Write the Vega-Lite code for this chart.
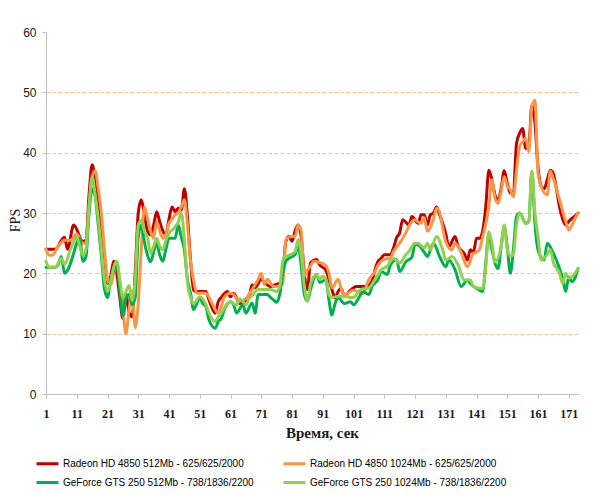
{
  "$schema": "https://vega.github.io/schema/vega-lite/v6.json",
  "autosize": "none",
  "width": 532,
  "height": 362,
  "padding": {"left": 46, "top": 32, "right": 22, "bottom": 105},
  "background": "white",
  "config": {"view": {"stroke": null}},
  "data": {"values": [
{"t":1,"s":"a","v":24},{"t":4,"s":"a","v":24},{"t":7,"s":"a","v":26},{"t":8,"s":"a","v":24},{"t":10,"s":"a","v":28},{"t":13,"s":"a","v":25.3},{"t":14,"s":"a","v":25.5},{"t":15,"s":"a","v":33},{"t":16,"s":"a","v":38},{"t":17,"s":"a","v":35.5},{"t":19,"s":"a","v":27},{"t":20,"s":"a","v":20},{"t":21,"s":"a","v":18.3},{"t":22,"s":"a","v":19.4},{"t":23,"s":"a","v":22},{"t":24,"s":"a","v":20},{"t":25,"s":"a","v":16},{"t":26,"s":"a","v":12.5},{"t":27,"s":"a","v":16.5},{"t":28,"s":"a","v":13.5},{"t":29,"s":"a","v":12.8},{"t":30,"s":"a","v":20},{"t":31,"s":"a","v":30},{"t":32,"s":"a","v":32.2},{"t":33,"s":"a","v":29.7},{"t":34,"s":"a","v":27},{"t":35,"s":"a","v":26.4},{"t":36,"s":"a","v":28},{"t":37,"s":"a","v":30.2},{"t":38,"s":"a","v":28.5},{"t":39,"s":"a","v":27},{"t":40,"s":"a","v":26.5},{"t":41,"s":"a","v":29},{"t":42,"s":"a","v":31},{"t":43,"s":"a","v":30.2},{"t":44,"s":"a","v":30.8},{"t":45,"s":"a","v":30.5},{"t":46,"s":"a","v":34},{"t":47,"s":"a","v":29.4},{"t":48,"s":"a","v":22.2},{"t":49,"s":"a","v":17.2},{"t":50,"s":"a","v":17},{"t":53,"s":"a","v":17},{"t":54,"s":"a","v":15.6},{"t":56,"s":"a","v":13.4},{"t":57,"s":"a","v":15.3},{"t":58,"s":"a","v":16},{"t":60,"s":"a","v":17},{"t":61,"s":"a","v":16.1},{"t":62,"s":"a","v":16.7},{"t":64,"s":"a","v":15},{"t":65,"s":"a","v":15.2},{"t":67,"s":"a","v":16},{"t":68,"s":"a","v":18.1},{"t":69,"s":"a","v":17.6},{"t":71,"s":"a","v":19},{"t":72,"s":"a","v":18.5},{"t":74,"s":"a","v":17.8},{"t":75,"s":"a","v":18},{"t":77,"s":"a","v":18.4},{"t":78,"s":"a","v":20},{"t":79,"s":"a","v":25.3},{"t":80,"s":"a","v":26.1},{"t":81,"s":"a","v":25.3},{"t":82,"s":"a","v":27},{"t":83,"s":"a","v":28},{"t":84,"s":"a","v":26},{"t":85,"s":"a","v":20},{"t":86,"s":"a","v":17.3},{"t":87,"s":"a","v":21.7},{"t":89,"s":"a","v":22.3},{"t":90,"s":"a","v":21.4},{"t":92,"s":"a","v":20.5},{"t":93,"s":"a","v":19},{"t":94,"s":"a","v":17.3},{"t":95,"s":"a","v":15.9},{"t":96,"s":"a","v":17},{"t":97,"s":"a","v":17.5},{"t":98,"s":"a","v":16.2},{"t":100,"s":"a","v":17.2},{"t":101,"s":"a","v":17.6},{"t":102,"s":"a","v":17.8},{"t":105,"s":"a","v":17.8},{"t":107,"s":"a","v":18.7},{"t":108,"s":"a","v":20.6},{"t":109,"s":"a","v":22},{"t":110,"s":"a","v":22.5},{"t":111,"s":"a","v":23.1},{"t":113,"s":"a","v":23.1},{"t":114,"s":"a","v":24.2},{"t":115,"s":"a","v":25.9},{"t":116,"s":"a","v":26.7},{"t":117,"s":"a","v":28.9},{"t":118,"s":"a","v":28.5},{"t":119,"s":"a","v":28},{"t":120,"s":"a","v":29.4},{"t":122,"s":"a","v":28.3},{"t":123,"s":"a","v":29.7},{"t":124,"s":"a","v":29.7},{"t":125,"s":"a","v":28},{"t":126,"s":"a","v":29.7},{"t":127,"s":"a","v":30},{"t":128,"s":"a","v":31},{"t":129,"s":"a","v":29.7},{"t":131,"s":"a","v":26.6},{"t":132,"s":"a","v":24.4},{"t":134,"s":"a","v":26.1},{"t":135,"s":"a","v":24.5},{"t":137,"s":"a","v":23.3},{"t":138,"s":"a","v":22.2},{"t":139,"s":"a","v":23.9},{"t":140,"s":"a","v":23.5},{"t":141,"s":"a","v":25.8},{"t":142,"s":"a","v":25.8},{"t":143,"s":"a","v":27},{"t":144,"s":"a","v":31},{"t":145,"s":"a","v":37.1},{"t":146,"s":"a","v":35.5},{"t":147,"s":"a","v":33},{"t":148,"s":"a","v":32.2},{"t":149,"s":"a","v":34},{"t":150,"s":"a","v":37},{"t":151,"s":"a","v":34.9},{"t":152,"s":"a","v":33.3},{"t":153,"s":"a","v":33.5},{"t":154,"s":"a","v":41.5},{"t":155,"s":"a","v":43.2},{"t":156,"s":"a","v":44},{"t":157,"s":"a","v":40.7},{"t":158,"s":"a","v":41},{"t":159,"s":"a","v":47.9},{"t":160,"s":"a","v":45},{"t":161,"s":"a","v":37.5},{"t":162,"s":"a","v":34.5},{"t":163,"s":"a","v":34},{"t":164,"s":"a","v":35.5},{"t":165,"s":"a","v":37.1},{"t":166,"s":"a","v":36.5},{"t":167,"s":"a","v":34},{"t":168,"s":"a","v":31},{"t":169,"s":"a","v":29},{"t":170,"s":"a","v":28},{"t":171,"s":"a","v":28.6},{"t":172,"s":"a","v":29.1},{"t":173,"s":"a","v":29.5},{"t":174,"s":"a","v":30},

{"t":1,"s":"b","v":24},{"t":2,"s":"b","v":23},{"t":3,"s":"b","v":23},{"t":5,"s":"b","v":24.5},{"t":7,"s":"b","v":25.5},{"t":9,"s":"b","v":25.5},{"t":11,"s":"b","v":26.5},{"t":13,"s":"b","v":25},{"t":14,"s":"b","v":25},{"t":15,"s":"b","v":31},{"t":16,"s":"b","v":36},{"t":17,"s":"b","v":37},{"t":18,"s":"b","v":34},{"t":19,"s":"b","v":30},{"t":20,"s":"b","v":24},{"t":21,"s":"b","v":19},{"t":22,"s":"b","v":18},{"t":23,"s":"b","v":20},{"t":24,"s":"b","v":22},{"t":25,"s":"b","v":18},{"t":26,"s":"b","v":14},{"t":27,"s":"b","v":10},{"t":28,"s":"b","v":14},{"t":29,"s":"b","v":17},{"t":30,"s":"b","v":11},{"t":31,"s":"b","v":15},{"t":32,"s":"b","v":24},{"t":33,"s":"b","v":31},{"t":34,"s":"b","v":29.1},{"t":35,"s":"b","v":27},{"t":36,"s":"b","v":25.8},{"t":37,"s":"b","v":28.6},{"t":38,"s":"b","v":27},{"t":39,"s":"b","v":25.8},{"t":40,"s":"b","v":26.5},{"t":41,"s":"b","v":28.3},{"t":42,"s":"b","v":29},{"t":43,"s":"b","v":29.7},{"t":44,"s":"b","v":30},{"t":45,"s":"b","v":31},{"t":46,"s":"b","v":32.2},{"t":47,"s":"b","v":28},{"t":48,"s":"b","v":22},{"t":49,"s":"b","v":18.9},{"t":50,"s":"b","v":16.7},{"t":53,"s":"b","v":16.7},{"t":55,"s":"b","v":15},{"t":57,"s":"b","v":13.4},{"t":58,"s":"b","v":14.5},{"t":59,"s":"b","v":16.1},{"t":61,"s":"b","v":16.7},{"t":62,"s":"b","v":16.5},{"t":63,"s":"b","v":15.8},{"t":64,"s":"b","v":15.4},{"t":66,"s":"b","v":15.8},{"t":67,"s":"b","v":16.5},{"t":69,"s":"b","v":18.1},{"t":70,"s":"b","v":19},{"t":71,"s":"b","v":20},{"t":72,"s":"b","v":18.1},{"t":73,"s":"b","v":19},{"t":75,"s":"b","v":17.8},{"t":76,"s":"b","v":17.8},{"t":78,"s":"b","v":18.3},{"t":79,"s":"b","v":25.6},{"t":80,"s":"b","v":26},{"t":81,"s":"b","v":26.1},{"t":82,"s":"b","v":26.1},{"t":83,"s":"b","v":28},{"t":84,"s":"b","v":27},{"t":85,"s":"b","v":19.5},{"t":86,"s":"b","v":20.5},{"t":87,"s":"b","v":21.2},{"t":88,"s":"b","v":22},{"t":90,"s":"b","v":21.8},{"t":92,"s":"b","v":21.3},{"t":93,"s":"b","v":20},{"t":94,"s":"b","v":17.6},{"t":96,"s":"b","v":19},{"t":97,"s":"b","v":17.5},{"t":98,"s":"b","v":16.3},{"t":99,"s":"b","v":16.6},{"t":101,"s":"b","v":17.2},{"t":102,"s":"b","v":17},{"t":104,"s":"b","v":16.6},{"t":106,"s":"b","v":19},{"t":108,"s":"b","v":20.3},{"t":109,"s":"b","v":21.4},{"t":111,"s":"b","v":22.3},{"t":113,"s":"b","v":22.5},{"t":114,"s":"b","v":23.6},{"t":116,"s":"b","v":25},{"t":118,"s":"b","v":26.7},{"t":119,"s":"b","v":27.8},{"t":121,"s":"b","v":28.9},{"t":122,"s":"b","v":28.5},{"t":123,"s":"b","v":28.3},{"t":124,"s":"b","v":29.2},{"t":125,"s":"b","v":27},{"t":127,"s":"b","v":29},{"t":128,"s":"b","v":30.8},{"t":129,"s":"b","v":30.2},{"t":130,"s":"b","v":27.5},{"t":131,"s":"b","v":25.2},{"t":133,"s":"b","v":23.9},{"t":134,"s":"b","v":25},{"t":136,"s":"b","v":23.5},{"t":138,"s":"b","v":21.1},{"t":140,"s":"b","v":23.3},{"t":141,"s":"b","v":23.5},{"t":142,"s":"b","v":24},{"t":143,"s":"b","v":26},{"t":145,"s":"b","v":31},{"t":146,"s":"b","v":35.5},{"t":147,"s":"b","v":32.5},{"t":148,"s":"b","v":31.6},{"t":149,"s":"b","v":33.5},{"t":150,"s":"b","v":36},{"t":151,"s":"b","v":34.5},{"t":152,"s":"b","v":33.8},{"t":153,"s":"b","v":32.7},{"t":154,"s":"b","v":37},{"t":155,"s":"b","v":41},{"t":156,"s":"b","v":41.8},{"t":157,"s":"b","v":42.4},{"t":158,"s":"b","v":40.2},{"t":159,"s":"b","v":47.6},{"t":160,"s":"b","v":48.7},{"t":161,"s":"b","v":36.6},{"t":162,"s":"b","v":34.4},{"t":164,"s":"b","v":33},{"t":165,"s":"b","v":36.9},{"t":166,"s":"b","v":35.7},{"t":168,"s":"b","v":32.2},{"t":170,"s":"b","v":28.6},{"t":171,"s":"b","v":27.2},{"t":172,"s":"b","v":28},{"t":173,"s":"b","v":29},{"t":174,"s":"b","v":30},

{"t":1,"s":"c","v":21},{"t":4,"s":"c","v":21},{"t":5,"s":"c","v":21.5},{"t":6,"s":"c","v":22.8},{"t":7,"s":"c","v":20},{"t":8,"s":"c","v":20.5},{"t":10,"s":"c","v":23.3},{"t":11,"s":"c","v":25},{"t":12,"s":"c","v":25.8},{"t":13,"s":"c","v":22},{"t":14,"s":"c","v":22.8},{"t":15,"s":"c","v":30},{"t":16,"s":"c","v":34},{"t":17,"s":"c","v":32.7},{"t":18,"s":"c","v":28},{"t":19,"s":"c","v":23},{"t":20,"s":"c","v":17.5},{"t":21,"s":"c","v":16},{"t":22,"s":"c","v":19},{"t":23,"s":"c","v":20.5},{"t":24,"s":"c","v":21.6},{"t":25,"s":"c","v":17.2},{"t":26,"s":"c","v":13},{"t":27,"s":"c","v":16},{"t":28,"s":"c","v":16.5},{"t":29,"s":"c","v":14.8},{"t":30,"s":"c","v":16},{"t":31,"s":"c","v":26},{"t":32,"s":"c","v":28},{"t":33,"s":"c","v":25.2},{"t":34,"s":"c","v":23},{"t":35,"s":"c","v":21.9},{"t":36,"s":"c","v":23.5},{"t":37,"s":"c","v":25},{"t":38,"s":"c","v":23},{"t":39,"s":"c","v":22},{"t":40,"s":"c","v":24},{"t":41,"s":"c","v":25.8},{"t":43,"s":"c","v":25.8},{"t":44,"s":"c","v":28},{"t":45,"s":"c","v":26},{"t":46,"s":"c","v":23.9},{"t":47,"s":"c","v":19},{"t":48,"s":"c","v":16.7},{"t":49,"s":"c","v":14},{"t":51,"s":"c","v":15.9},{"t":52,"s":"c","v":15},{"t":53,"s":"c","v":14.5},{"t":54,"s":"c","v":12.3},{"t":56,"s":"c","v":10.9},{"t":57,"s":"c","v":12},{"t":58,"s":"c","v":12.5},{"t":59,"s":"c","v":14},{"t":61,"s":"c","v":15.3},{"t":62,"s":"c","v":14.8},{"t":63,"s":"c","v":13.4},{"t":65,"s":"c","v":14.8},{"t":66,"s":"c","v":13.4},{"t":68,"s":"c","v":15.1},{"t":69,"s":"c","v":13.4},{"t":70,"s":"c","v":16.5},{"t":73,"s":"c","v":16.5},{"t":74,"s":"c","v":16},{"t":75,"s":"c","v":15.6},{"t":76,"s":"c","v":15.2},{"t":77,"s":"c","v":16.5},{"t":78,"s":"c","v":20},{"t":79,"s":"c","v":22},{"t":80,"s":"c","v":22.5},{"t":82,"s":"c","v":23.1},{"t":83,"s":"c","v":24.5},{"t":84,"s":"c","v":21.2},{"t":85,"s":"c","v":16.5},{"t":86,"s":"c","v":15.4},{"t":87,"s":"c","v":17.3},{"t":89,"s":"c","v":19.8},{"t":90,"s":"c","v":18.5},{"t":91,"s":"c","v":18.7},{"t":92,"s":"c","v":19},{"t":93,"s":"c","v":15.6},{"t":94,"s":"c","v":13.1},{"t":95,"s":"c","v":15},{"t":96,"s":"c","v":16},{"t":98,"s":"c","v":15},{"t":100,"s":"c","v":15.3},{"t":101,"s":"c","v":14.8},{"t":103,"s":"c","v":16.2},{"t":104,"s":"c","v":17},{"t":106,"s":"c","v":16.5},{"t":107,"s":"c","v":17.8},{"t":109,"s":"c","v":19},{"t":110,"s":"c","v":20.3},{"t":112,"s":"c","v":19.8},{"t":113,"s":"c","v":21.4},{"t":115,"s":"c","v":22.3},{"t":116,"s":"c","v":20.3},{"t":118,"s":"c","v":21.9},{"t":120,"s":"c","v":22.7},{"t":121,"s":"c","v":24.8},{"t":122,"s":"c","v":24.7},{"t":124,"s":"c","v":23.5},{"t":125,"s":"c","v":22.8},{"t":127,"s":"c","v":25},{"t":129,"s":"c","v":22.8},{"t":131,"s":"c","v":21.1},{"t":132,"s":"c","v":22.2},{"t":134,"s":"c","v":20.6},{"t":136,"s":"c","v":17.8},{"t":138,"s":"c","v":18.9},{"t":139,"s":"c","v":18.3},{"t":142,"s":"c","v":17.2},{"t":143,"s":"c","v":17},{"t":144,"s":"c","v":21.7},{"t":145,"s":"c","v":26.6},{"t":146,"s":"c","v":23.9},{"t":148,"s":"c","v":20.8},{"t":149,"s":"c","v":24.4},{"t":150,"s":"c","v":27.7},{"t":151,"s":"c","v":24.4},{"t":152,"s":"c","v":20},{"t":153,"s":"c","v":24},{"t":154,"s":"c","v":29.4},{"t":155,"s":"c","v":30},{"t":157,"s":"c","v":28.3},{"t":158,"s":"c","v":28.6},{"t":159,"s":"c","v":36.9},{"t":160,"s":"c","v":28.3},{"t":161,"s":"c","v":23.9},{"t":163,"s":"c","v":22.2},{"t":164,"s":"c","v":25},{"t":166,"s":"c","v":23.3},{"t":168,"s":"c","v":20.8},{"t":169,"s":"c","v":19.2},{"t":170,"s":"c","v":17},{"t":171,"s":"c","v":19.4},{"t":172,"s":"c","v":18.6},{"t":173,"s":"c","v":19.2},{"t":174,"s":"c","v":20.8},

{"t":1,"s":"d","v":22},{"t":2,"s":"d","v":21},{"t":4,"s":"d","v":21},{"t":6,"s":"d","v":22.5},{"t":7,"s":"d","v":21.5},{"t":9,"s":"d","v":24},{"t":11,"s":"d","v":26},{"t":12,"s":"d","v":24.5},{"t":13,"s":"d","v":23},{"t":14,"s":"d","v":24},{"t":15,"s":"d","v":31},{"t":16,"s":"d","v":36},{"t":17,"s":"d","v":33},{"t":18,"s":"d","v":29},{"t":19,"s":"d","v":24},{"t":20,"s":"d","v":19},{"t":21,"s":"d","v":17},{"t":22,"s":"d","v":18.5},{"t":23,"s":"d","v":21},{"t":24,"s":"d","v":22},{"t":25,"s":"d","v":19},{"t":26,"s":"d","v":16},{"t":27,"s":"d","v":17},{"t":28,"s":"d","v":18},{"t":29,"s":"d","v":15.5},{"t":30,"s":"d","v":19},{"t":31,"s":"d","v":28},{"t":32,"s":"d","v":28.8},{"t":33,"s":"d","v":27},{"t":34,"s":"d","v":26},{"t":35,"s":"d","v":23.3},{"t":36,"s":"d","v":24.5},{"t":37,"s":"d","v":25.8},{"t":38,"s":"d","v":24.5},{"t":39,"s":"d","v":23.9},{"t":40,"s":"d","v":25.5},{"t":41,"s":"d","v":26.6},{"t":43,"s":"d","v":27.7},{"t":44,"s":"d","v":28.5},{"t":45,"s":"d","v":30},{"t":46,"s":"d","v":25.5},{"t":47,"s":"d","v":18.3},{"t":48,"s":"d","v":16},{"t":49,"s":"d","v":15},{"t":51,"s":"d","v":16.1},{"t":53,"s":"d","v":14.8},{"t":54,"s":"d","v":13.4},{"t":56,"s":"d","v":12},{"t":57,"s":"d","v":12.8},{"t":58,"s":"d","v":13.4},{"t":60,"s":"d","v":15},{"t":61,"s":"d","v":15.2},{"t":62,"s":"d","v":15},{"t":63,"s":"d","v":14.7},{"t":64,"s":"d","v":15.8},{"t":66,"s":"d","v":14.8},{"t":67,"s":"d","v":15.8},{"t":68,"s":"d","v":16.3},{"t":70,"s":"d","v":17.3},{"t":74,"s":"d","v":17.3},{"t":76,"s":"d","v":17},{"t":77,"s":"d","v":17.8},{"t":78,"s":"d","v":22},{"t":79,"s":"d","v":22.8},{"t":80,"s":"d","v":23},{"t":82,"s":"d","v":23.6},{"t":83,"s":"d","v":25.6},{"t":84,"s":"d","v":23},{"t":85,"s":"d","v":18},{"t":86,"s":"d","v":15.4},{"t":87,"s":"d","v":18.2},{"t":89,"s":"d","v":19.8},{"t":90,"s":"d","v":19},{"t":91,"s":"d","v":19.5},{"t":92,"s":"d","v":19},{"t":93,"s":"d","v":16.5},{"t":94,"s":"d","v":16},{"t":96,"s":"d","v":16.2},{"t":98,"s":"d","v":16.2},{"t":100,"s":"d","v":16},{"t":101,"s":"d","v":16},{"t":103,"s":"d","v":17.2},{"t":104,"s":"d","v":17.4},{"t":106,"s":"d","v":17.6},{"t":108,"s":"d","v":19},{"t":110,"s":"d","v":20.6},{"t":112,"s":"d","v":21.2},{"t":113,"s":"d","v":22},{"t":114,"s":"d","v":22.5},{"t":116,"s":"d","v":21.7},{"t":118,"s":"d","v":23.1},{"t":119,"s":"d","v":23.6},{"t":121,"s":"d","v":25},{"t":122,"s":"d","v":25},{"t":124,"s":"d","v":24.2},{"t":125,"s":"d","v":25},{"t":126,"s":"d","v":23.9},{"t":128,"s":"d","v":26.1},{"t":130,"s":"d","v":23.9},{"t":131,"s":"d","v":22.2},{"t":133,"s":"d","v":22.8},{"t":135,"s":"d","v":21.4},{"t":137,"s":"d","v":18.9},{"t":139,"s":"d","v":18.9},{"t":140,"s":"d","v":17.8},{"t":143,"s":"d","v":17.5},{"t":144,"s":"d","v":21},{"t":145,"s":"d","v":26.9},{"t":146,"s":"d","v":25},{"t":147,"s":"d","v":21.9},{"t":149,"s":"d","v":24.4},{"t":150,"s":"d","v":28},{"t":151,"s":"d","v":24},{"t":152,"s":"d","v":22.8},{"t":153,"s":"d","v":23.3},{"t":154,"s":"d","v":28},{"t":155,"s":"d","v":30},{"t":157,"s":"d","v":28.3},{"t":158,"s":"d","v":28.6},{"t":159,"s":"d","v":36.9},{"t":160,"s":"d","v":30},{"t":161,"s":"d","v":26.1},{"t":162,"s":"d","v":22.2},{"t":164,"s":"d","v":23.1},{"t":165,"s":"d","v":23.9},{"t":166,"s":"d","v":21.8},{"t":168,"s":"d","v":20},{"t":169,"s":"d","v":18.3},{"t":170,"s":"d","v":20},{"t":171,"s":"d","v":19.2},{"t":173,"s":"d","v":20},{"t":174,"s":"d","v":20.8}
  ]},
  "mark": {"type": "line", "interpolate": "monotone", "strokeWidth": 3, "strokeJoin": "round", "strokeCap": "round"},
  "encoding": {
    "x": {
      "field": "t", "type": "quantitative",
      "scale": {"domain": [1, 174], "nice": false, "zero": false},
      "axis": {
        "values": [1, 11, 21, 31, 41, 51, 61, 71, 81, 91, 101, 111, 121, 131, 141, 151, 161, 171],
        "title": "Время, сек",
        "titleFont": "Liberation Serif", "titleFontSize": 15, "titleFontWeight": "bold", "titleColor": "#1a1a1a",
        "titlePadding": 6, "titleX": 276,
        "labelFont": "Liberation Serif", "labelFontSize": 12, "labelFontWeight": "bold", "labelColor": "#1a1a1a",
        "labelPadding": 10,
        "domainColor": "#BFBFBF", "tickColor": "#BFBFBF", "tickSize": 4,
        "grid": false, "labelFlush": false
      }
    },
    "y": {
      "field": "v", "type": "quantitative",
      "scale": {"domain": [0, 60], "nice": false},
      "axis": {
        "values": [0, 10, 20, 30, 40, 50, 60],
        "title": "FPS",
        "titleFont": "Liberation Serif", "titleFontSize": 14, "titleFontWeight": "normal", "titleColor": "#1a1a1a",
        "titlePadding": 0, "titleY": 188,
        "labelFont": "Liberation Sans", "labelFontSize": 12, "labelColor": "#1a1a1a",
        "labelPadding": 6,
        "domainColor": "#BFBFBF", "tickColor": "#BFBFBF", "tickSize": 4,
        "grid": true, "gridColor": "#FAC090", "gridDash": [4, 2], "gridWidth": 1,
        "gridOpacity": {"condition": {"test": "datum.value === 0 || datum.value === 60", "value": 0}, "value": 1}
      }
    },
    "color": {
      "field": "s", "type": "nominal",
      "scale": {"domain": ["a", "b", "c", "d"], "range": ["#C00000", "#F79646", "#00B050", "#92D050"]},
      "legend": {
        "orient": "none", "legendX": -11, "legendY": 419,
        "direction": "horizontal", "columns": 2, "title": null,
        "symbolType": "stroke", "symbolStrokeWidth": 3, "symbolSize": 484,
        "labelFont": "Liberation Sans", "labelFontSize": 10, "labelColor": "#000000",
        "labelOffset": 3, "columnPadding": 20, "rowPadding": 0,
        "labelExpr": "datum.value === 'a' ? 'Radeon HD 4850 512Mb  - 625/625/2000' : datum.value === 'b' ? 'Radeon HD 4850 1024Mb  - 625/625/2000' : datum.value === 'c' ? 'GeForce GTS 250 512Mb  - 738/1836/2200' : 'GeForce GTS 250 1024Mb  - 738/1836/2200'",
        "labelLimit": 300
      }
    }
  }
}
